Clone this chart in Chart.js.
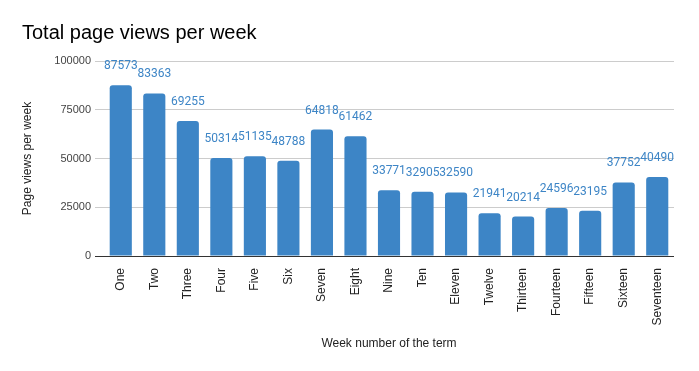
<!DOCTYPE html>
<html>
<head>
<meta charset="utf-8">
<script src="https://cdn.jsdelivr.net/npm/chart.js@4"></script>
<style>
  html, body { margin: 0; padding: 0; background: #fff; }
  #wrap { width: 699px; height: 371px; }
</style>
</head>
<body>
<div id="wrap"><canvas id="viewsChart" width="699" height="371"></canvas></div>
<script>
const weeks = ['One', 'Two', 'Three', 'Four', 'Five', 'Six', 'Seven', 'Eight', 'Nine', 'Ten',
  'Eleven', 'Twelve', 'Thirteen', 'Fourteen', 'Fifteen', 'Sixteen', 'Seventeen'];
const pageViews = [87573, 83363, 69255, 50314, 51135, 48788, 64818, 61462, 33771, 32905,
  32590, 21941, 20214, 24596, 23195, 37752, 40490];
const yTicks = [0, 25000, 50000, 75000, 100000];

// value labels above each bar
const valueLabels = {
    id: 'valueLabels',
    afterDatasetsDraw(chart) {
        const ctx = chart.ctx;
        const meta = chart.getDatasetMeta(0);
        ctx.save();
        ctx.font = '12px Roboto';
        ctx.fillStyle = '#3d85c6';
        ctx.textAlign = 'center';
        ctx.textBaseline = 'middle';
        meta.data.forEach(function(bar, i) {
            const p = bar.getProps(['x', 'y'], true);
            ctx.fillText(String(pageViews[i]), p.x, p.y - 19);
        });
        ctx.restore();
    }
};

const ctx = document.getElementById('viewsChart').getContext('2d');
new Chart(ctx, {
    type: 'bar',
    data: {
        labels: weeks,
        datasets: [{
            label: 'Page views per week',
            data: pageViews,
            backgroundColor: '#3d85c6',
            borderRadius: 3,
            borderSkipped: 'bottom',
            barPercentage: 1,
            categoryPercentage: 0.66
        }]
    },
    options: {
        responsive: false,
        animation: false,
        layout: { padding: { left: 16, right: 25, top: 0, bottom: 16 } },
        plugins: {
            legend: { display: false },
            tooltip: { enabled: false },
            title: {
                display: true,
                text: 'Total page views per week',
                align: 'start',
                color: '#000',
                font: { family: 'Liberation Sans', size: 20, weight: 'normal' },
                padding: { top: 21.5, bottom: 15.5 }
            }
        },
        scales: {
            x: {
                grid: { display: false },
                border: { display: false },
                ticks: {
                    color: '#222',
                    font: { family: 'Liberation Sans', size: 12 },
                    minRotation: 90,
                    maxRotation: 90,
                    autoSkip: false,
                    padding: 4
                },
                title: {
                    display: true,
                    text: 'Week number of the term',
                    color: '#222',
                    font: { family: 'Liberation Sans', size: 12 }
                },
                afterFit(scale) { scale.height = 99; }
            },
            y: {
                min: 0,
                max: 100000,
                afterBuildTicks(scale) { scale.ticks = yTicks.map(v => ({ value: v })); },
                grid: {
                    color: c => c.tick && c.tick.value === 0 ? '#333' : '#ccc',
                    tickColor: c => c.tick && c.tick.value === 0 ? '#333' : '#ccc',
                    tickLength: 9
                },
                border: { display: false },
                ticks: {
                    color: '#444',
                    font: { family: 'Liberation Sans', size: 11 },
                    padding: 4,
                    callback: v => String(v)
                },
                title: {
                    display: true,
                    text: 'Page views per week',
                    color: '#222',
                    font: { family: 'Liberation Sans', size: 12 }
                },
                afterFit(scale) { scale.width = 88; }
            }
        }
    },
    plugins: [valueLabels, {
        id: 'titleShift',
        beforeDraw(chart) {
            // Google Sheets indents the title a little from the left edge
            chart.titleBlock.left = 22;
        }
    }]
});
</script>
</body>
</html>
